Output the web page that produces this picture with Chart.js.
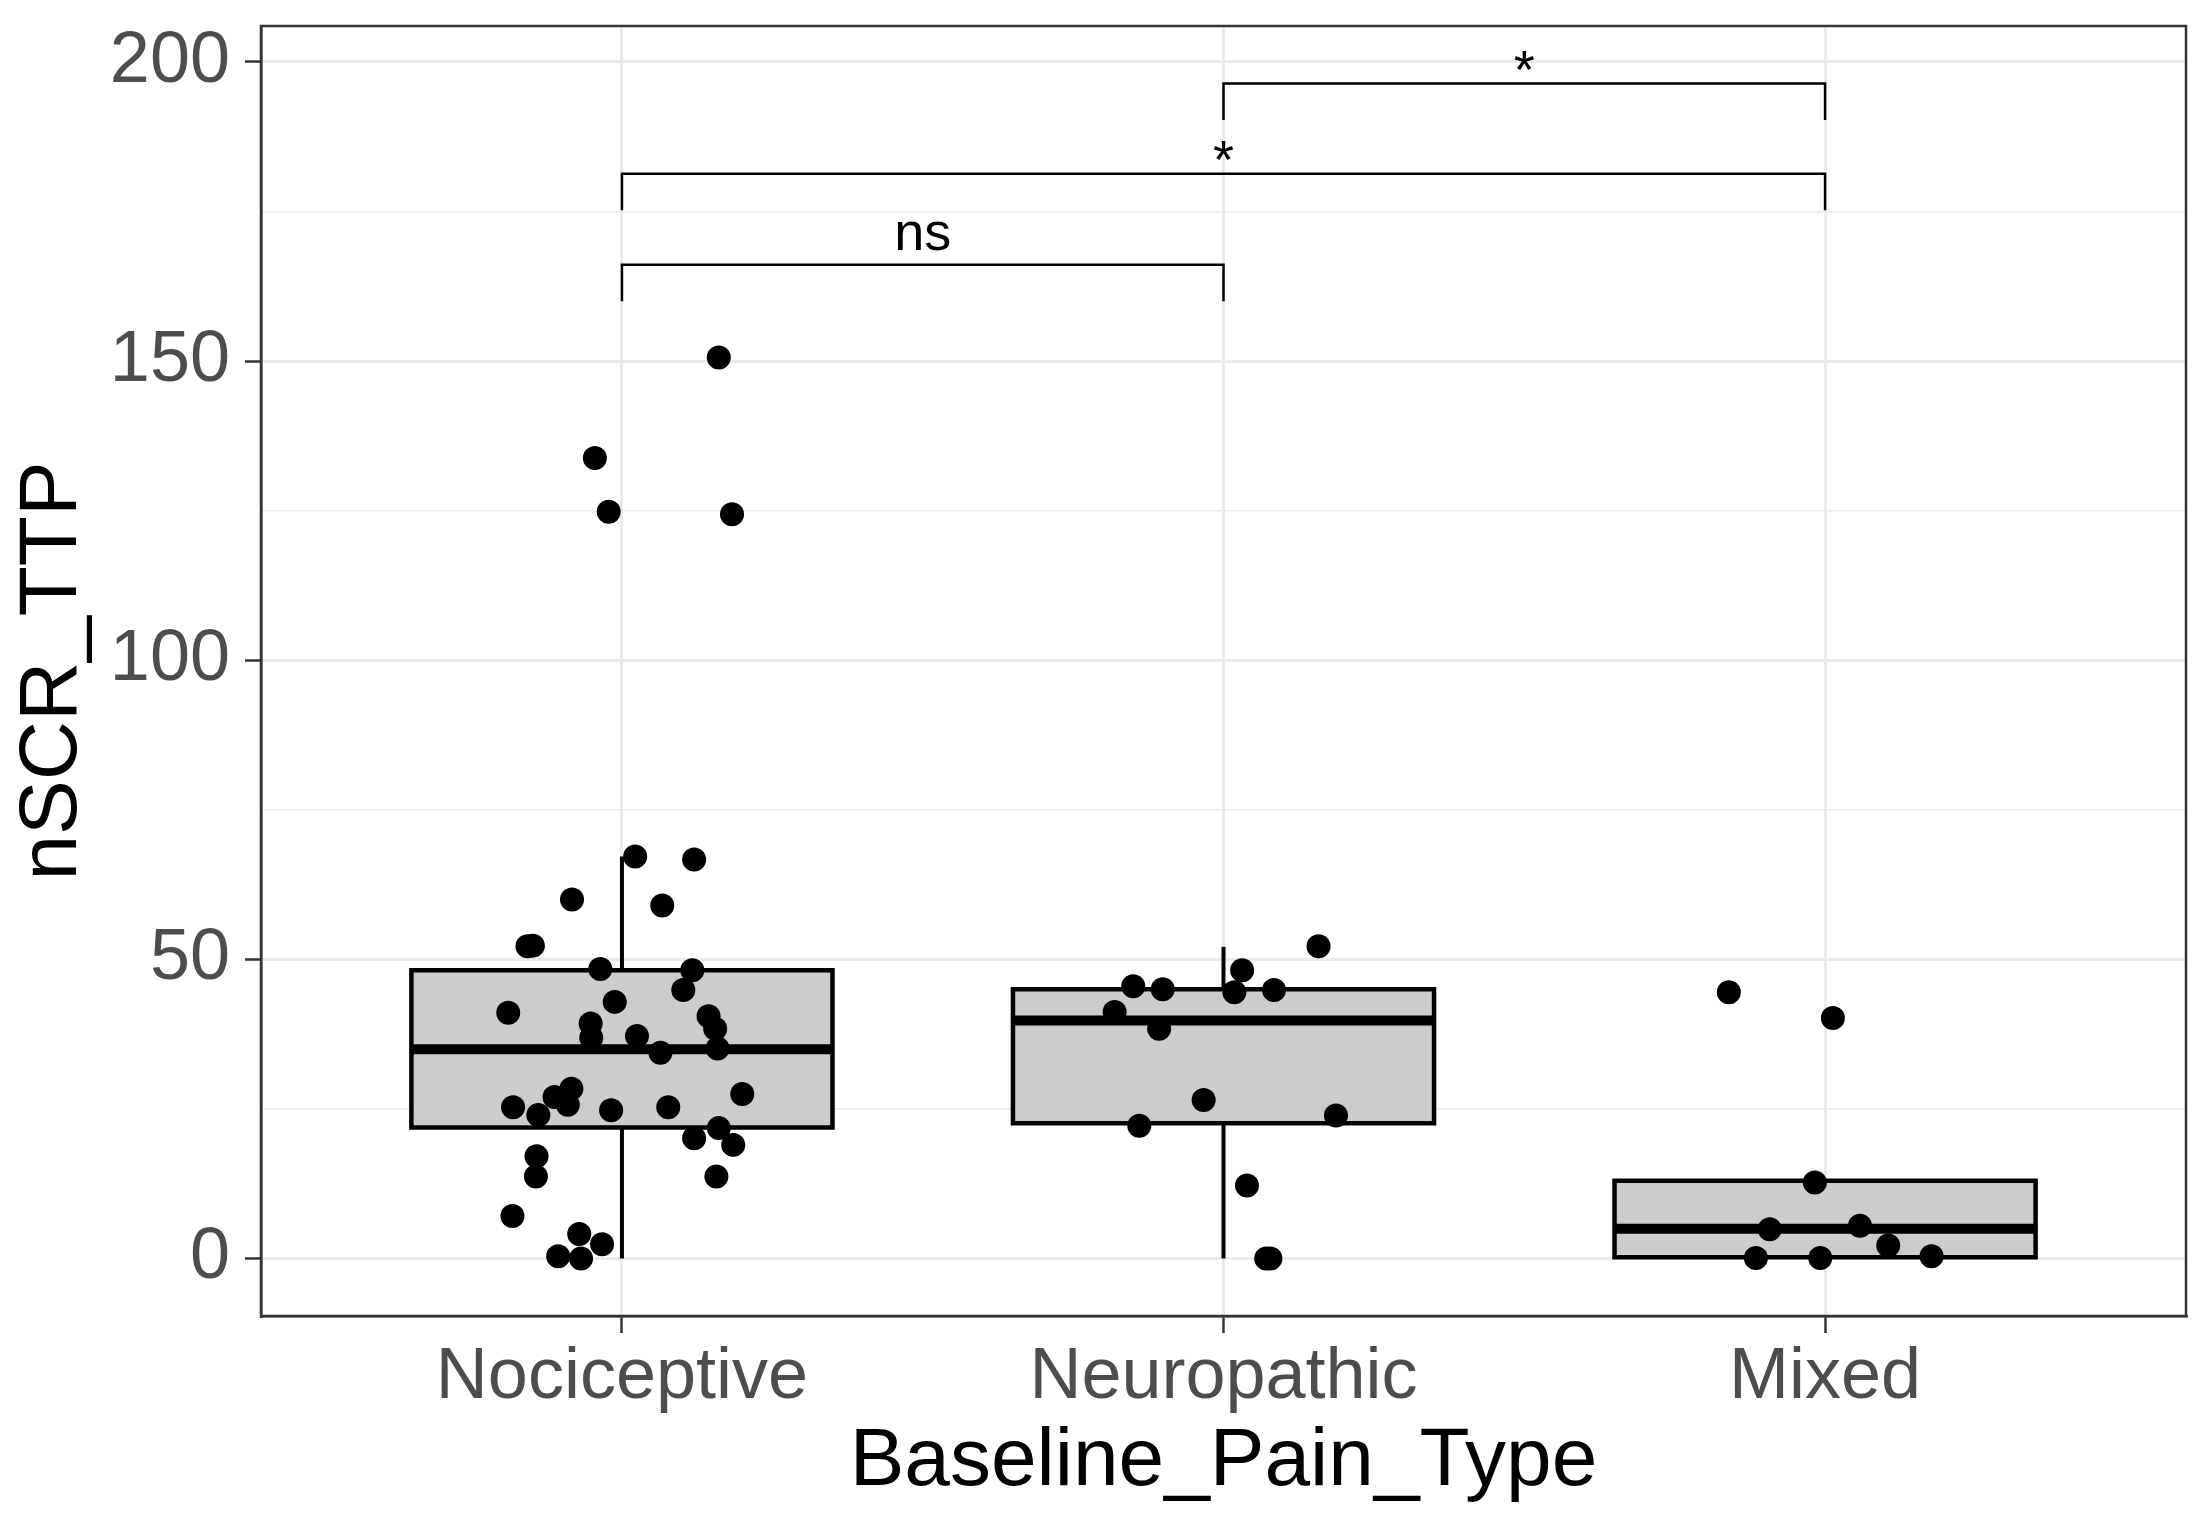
<!DOCTYPE html>
<html>
<head>
<meta charset="utf-8">
<script src="https://cdn.jsdelivr.net/npm/chart.js@4.4.1/dist/chart.umd.min.js"></script>
<style>
	html, body { margin: 0; padding: 0; background: #fff; }
	#caixa { width: 2211px; height: 1528px; }
</style>
</head>
<body>
<div id="caixa"><canvas id="graficoTTP" width="2211" height="1528"></canvas></div>
<script>
var categorias = ['Nociceptive', 'Neuropathic', 'Mixed'];
var marcasY = [0, 25, 50, 75, 100, 125, 150, 175, 200];
var rotulosY = [0, 50, 100, 150, 200];

// resumo dos boxplots
var minimos = [0, 0, 0];
var quartil1 = [21.9, 22.6, 0.2];
var medianas = [35.0, 39.8, 5.0];
var quartil3 = [48.2, 45.0, 13.0];
var maximos = [67.2, 52.1, 13.0];

// pontos (valor + deslocamento do jitter)
var nociceptivoValores = [150.6, 133.8, 124.8, 124.4, 67.2, 66.7, 60.0, 59.0, 52.2, 52.3, 48.4, 48.2, 44.9, 42.9, 41.1, 40.5, 39.3, 38.4, 37.2, 36.9, 35.1, 34.4, 27.5, 28.4, 27.0, 25.7, 25.3, 24.8, 25.3, 24.0, 21.8, 20.1, 19.0, 17.1, 13.7, 13.7, 7.1, 4.1, 2.4, 0.4, 0.0];
var nociceptivoJitter = [0.161, -0.045, -0.022, 0.183, 0.022, 0.120, -0.083, 0.067, -0.157, -0.148, -0.036, 0.117, 0.102, -0.012, -0.189, 0.144, -0.052, 0.155, 0.025, -0.051, 0.159, 0.064, 0.200, -0.084, -0.112, -0.090, -0.181, -0.018, 0.077, -0.139, 0.161, 0.120, 0.185, -0.142, -0.143, 0.157, -0.182, -0.071, -0.033, -0.106, -0.068];
var neuropaticoValores = [52.2, 48.2, 45.5, 45.0, 44.5, 44.9, 41.2, 38.4, 26.5, 23.9, 22.2, 12.2, 0.0, 0.0];
var neuropaticoJitter = [0.158, 0.031, -0.150, -0.101, 0.018, 0.084, -0.181, -0.107, -0.033, 0.187, -0.140, 0.039, 0.071, 0.078];
var mistoValores = [44.5, 40.2, 12.7, 4.9, 5.5, 2.2, 0.1, 0.1, 0.4];
var mistoJitter = [-0.160, 0.013, -0.017, -0.092, 0.058, 0.105, -0.115, -0.008, 0.177];

// comparacoes (ggsignif)
var comparacaoInicio = [1, 1, 2];
var comparacaoFim = [2, 3, 3];
var comparacaoAltura = [166.1, 181.3, 196.4];
var comparacaoPonta = [160.0, 175.2, 190.3];
var comparacaoRotulo = ['ns', '*', '*'];

var FONTE = '"Liberation Sans", Arial, sans-serif';
var MEIA_CAIXA = 0.35;

function segmento(pontos, largura, ordem) {
	return {
		data: pontos,
		borderColor: '#000',
		borderWidth: largura,
		pointRadius: 0,
		fill: false,
		order: ordem
	};
}

function montarDatasets() {
	var datasets = [];
	var pontos = [];
	[nociceptivoValores, neuropaticoValores, mistoValores].forEach(function(valores, g) {
		var jitter = [nociceptivoJitter, neuropaticoJitter, mistoJitter][g];
		valores.forEach(function(v, i) {
			pontos.push({x: g + 1 + jitter[i], y: v});
		});
	});
	datasets.push({
		data: pontos,
		showLine: false,
		pointRadius: 12,
		pointBackgroundColor: '#000',
		pointBorderWidth: 0,
		order: 0
	});

	categorias.forEach(function(c, i) {
		var x = i + 1;
		var esq = x - MEIA_CAIXA, dir = x + MEIA_CAIXA;
		datasets.push(segmento([{x: esq, y: medianas[i]}, {x: dir, y: medianas[i]}], 10, 1));

		var contorno = segmento([
			{x: esq, y: quartil1[i]}, {x: esq, y: quartil3[i]},
			{x: dir, y: quartil3[i]}, {x: dir, y: quartil1[i]},
			{x: esq, y: quartil1[i]}
		], 4.5, 2);
		contorno.borderCapStyle = 'square';
		datasets.push(contorno);

		// preenchimento cinza: borda superior preenchida ate o Q1
		var preenchimento = segmento([{x: esq, y: quartil3[i]}, {x: dir, y: quartil3[i]}], 0, 3);
		preenchimento.fill = {value: quartil1[i]};
		preenchimento.backgroundColor = '#cccccc';
		preenchimento.borderColor = 'rgba(0,0,0,0)';
		datasets.push(preenchimento);

		datasets.push(segmento([{x: x, y: quartil3[i]}, {x: x, y: maximos[i]}], 4, 4));
		datasets.push(segmento([{x: x, y: quartil1[i]}, {x: x, y: minimos[i]}], 4, 4));
	});

	comparacaoRotulo.forEach(function(r, i) {
		datasets.push(segmento([
			{x: comparacaoInicio[i], y: comparacaoPonta[i]},
			{x: comparacaoInicio[i], y: comparacaoAltura[i]},
			{x: comparacaoFim[i], y: comparacaoAltura[i]},
			{x: comparacaoFim[i], y: comparacaoPonta[i]}
		], 2.5, 5));
	});
	return datasets;
}

var rotulosComparacao = {
	id: 'rotulosComparacao',
	afterDatasetsDraw: function(chart) {
		var ctx = chart.ctx, ex = chart.scales.x, ey = chart.scales.y;
		ctx.save();
		ctx.font = '54px ' + FONTE;
		ctx.fillStyle = '#000';
		ctx.textAlign = 'center';
		ctx.textBaseline = 'alphabetic';
		comparacaoRotulo.forEach(function(r, i) {
			var px = ex.getPixelForValue((comparacaoInicio[i] + comparacaoFim[i]) / 2);
			var py = ey.getPixelForValue(comparacaoAltura[i]);
			var m = ctx.measureText(r);
			ctx.fillText(r, px, py - 13.5 - m.actualBoundingBoxDescent);
		});
		ctx.restore();
	}
};

var moldura = {
	id: 'moldura',
	afterDraw: function(chart) {
		var a = chart.chartArea, ctx = chart.ctx;
		ctx.save();
		ctx.strokeStyle = '#333333';
		ctx.lineWidth = 2.5;
		ctx.strokeRect(a.left, a.top, a.right - a.left, a.bottom - a.top);
		ctx.restore();
	}
};

function ehRotulo(v) {
	return rotulosY.indexOf(v) >= 0;
}

var grafico = new Chart(document.getElementById('graficoTTP').getContext('2d'), {
	type: 'line',
	data: { datasets: montarDatasets() },
	options: {
		responsive: false,
		animation: false,
		devicePixelRatio: 1,
		events: [],
		layout: { padding: { top: 26, right: 25, left: 0, bottom: 0 } },
		plugins: { legend: { display: false }, tooltip: { enabled: false } },
		scales: {
			x: {
				type: 'linear',
				min: 0.4,
				max: 3.6,
				afterBuildTicks: function(escala) {
					escala.ticks = categorias.map(function(c, i) { return {value: i + 1}; });
				},
				afterFit: function(escala) {
					escala.height = 212;
					escala.paddingLeft = 0;
					escala.paddingRight = 0;
				},
				ticks: {
					autoSkip: false,
					maxRotation: 0,
					padding: 2,
					color: '#4d4d4d',
					font: { size: 72, family: FONTE },
					callback: function(v) { return categorias[Math.round(v) - 1]; }
				},
				grid: { color: '#ebebeb', lineWidth: 3, tickColor: '#333333', tickLength: 17, tickWidth: 2.5 },
				border: { color: '#333333', width: 2.5 },
				title: {
					display: true,
					text: 'Baseline_Pain_Type',
					color: '#000',
					font: { size: 82, family: FONTE },
					padding: { top: 0, bottom: 16 }
				}
			},
			y: {
				min: -9.6,
				max: 206,
				afterBuildTicks: function(escala) {
					escala.ticks = marcasY.map(function(v) { return {value: v}; });
				},
				afterFit: function(escala) {
					escala.width = 261;
					escala.paddingTop = 0;
					escala.paddingBottom = 0;
				},
				ticks: {
					autoSkip: false,
					padding: 15,
					color: '#4d4d4d',
					font: { size: 72, family: FONTE },
					callback: function(v) { return ehRotulo(v) ? String(v) : ''; }
				},
				grid: {
					color: '#ebebeb',
					lineWidth: function(c) { return ehRotulo(c.tick.value) ? 3 : 1.5; },
					tickColor: function(c) { return ehRotulo(c.tick.value) ? '#333333' : 'rgba(0,0,0,0)'; },
					tickLength: 16,
					tickWidth: 2.5
				},
				border: { color: '#333333', width: 2.5 },
				title: {
					display: true,
					text: 'nSCR_TTP',
					color: '#000',
					font: { size: 82, family: FONTE },
					padding: { top: 4, bottom: 0 }
				}
			}
		}
	},
	plugins: [rotulosComparacao, moldura]
});
</script>
</body>
</html>
